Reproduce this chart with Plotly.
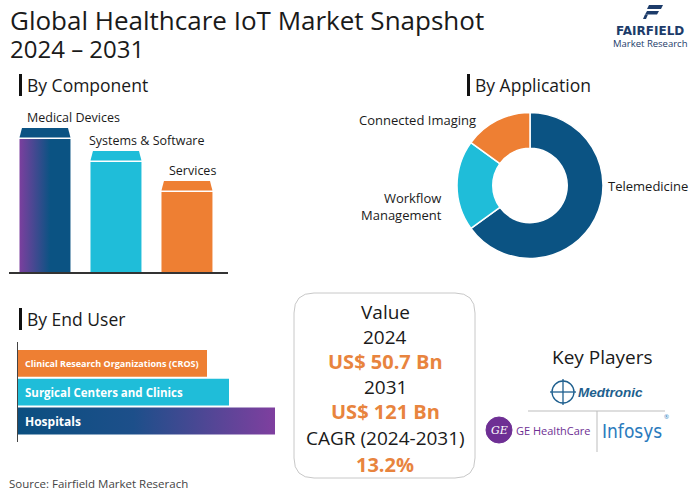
import plotly.graph_objects as go

W, H = 700, 491

# ---------------- data ----------------
title_line1 = "Global Healthcare IoT Market Snapshot"
title_line2 = "2024 – 2031"

component_labels = ["Medical Devices", "Systems & Software", "Services"]
component_values = [144, 121, 91]

application_labels = ["Telemedicine", "Workflow<br>Management", "Connected Imaging"]
application_values = [65, 20, 15]

end_user_labels = ["Hospitals", "Surgical Centers and Clinics", "Clinical Research Organizations (CROS)"]
end_user_values = [257, 211, 189]

value_year_start = "2024"
value_year_end = "2031"
value_start = "US$ 50.7 Bn"
value_end = "US$ 121 Bn"
cagr_label = "CAGR (2024-2031)"
cagr_value = "13.2%"

key_players = ["Medtronic", "GE HealthCare", "Infosys"]
source_text = "Source: Fairfield Market Reserach"

# ---------------- styles ----------------
FONT = "Open Sans, Lato, sans-serif"
DARK_BLUE = "#0b5383"
CYAN = "#1fbdd9"
ORANGE = "#ee7f33"
PURPLE = "#7b3f9e"
TEXT = "#1a1a1a"
VAL_ORANGE = "#e8843e"


def px(x):
    return x / W


def py(y):
    return 1 - y / H


fig = go.Figure()

# ---------------- By Component (vertical bars) ----------------
comp_colors = [None, CYAN, ORANGE]
cap_colors = [DARK_BLUE, CYAN, ORANGE]
half = 0.359
inset = 0.035
cap_h = 9.5
gap = 1.5
label_offsets = [0.08, -0.05, 0.08]
for i, (lab, v) in enumerate(zip(component_labels, component_values)):
    body_top = v - cap_h - gap
    bx = [i - half, i + half, i + half, i - half, i - half]
    by = [0, 0, body_top, body_top, 0]
    if i == 0:
        fig.add_trace(go.Scatter(
            x=bx, y=by, mode="lines", fill="toself", line=dict(width=0),
            fillgradient=dict(type="horizontal",
                              colorscale=[[0, PURPLE], [0.6, DARK_BLUE], [1, DARK_BLUE]]),
            hoverinfo="skip", showlegend=False, xaxis="x", yaxis="y"))
    else:
        fig.add_trace(go.Scatter(
            x=bx, y=by, mode="lines", fill="toself", line=dict(width=0),
            fillcolor=comp_colors[i], hoverinfo="skip", showlegend=False,
            xaxis="x", yaxis="y"))
    cx = [i - half, i + half, i + half - inset, i - half + inset, i - half]
    cy = [v - cap_h, v - cap_h, v, v, v - cap_h]
    fig.add_trace(go.Scatter(
        x=cx, y=cy, mode="lines", fill="toself", line=dict(width=0),
        fillcolor=cap_colors[i], hoverinfo="skip", showlegend=False,
        xaxis="x", yaxis="y"))
    fig.add_annotation(x=i - half + label_offsets[i], y=v + 0.5,
                       xref="x", yref="y", text=lab, showarrow=False,
                       xanchor="left", yanchor="bottom",
                       font=dict(family=FONT, size=12.5, color=TEXT))

# ---------------- By End User (horizontal bars) ----------------
eu_colors = [None, CYAN, ORANGE]
eu_half = 0.465
eu_sizes = [12, 11.5, 9]
for i, (lab, v) in enumerate(zip(end_user_labels, end_user_values)):
    xs = [0, v, v, 0, 0]
    ys = [i - eu_half, i - eu_half, i + eu_half, i + eu_half, i - eu_half]
    if i == 0:
        fig.add_trace(go.Scatter(
            x=xs, y=ys, mode="lines", fill="toself", line=dict(width=0),
            fillgradient=dict(type="horizontal",
                              colorscale=[[0, "#0b4f80"], [0.45, "#1d4f8a"], [1, "#7f3f9f"]]),
            hoverinfo="skip", showlegend=False, xaxis="x2", yaxis="y2"))
    else:
        fig.add_trace(go.Scatter(
            x=xs, y=ys, mode="lines", fill="toself", line=dict(width=0),
            fillcolor=eu_colors[i], hoverinfo="skip", showlegend=False,
            xaxis="x2", yaxis="y2"))
    fig.add_annotation(x=5, y=i, xref="x2", yref="y2",
                       text="<b>%s</b>" % lab, showarrow=False,
                       xanchor="left", yanchor="middle",
                       font=dict(family=FONT, size=eu_sizes[i], color="white"))

# ---------------- By Application (donut) ----------------
pcx, pcy, pr = 530, 185.5, 73
fig.add_trace(go.Pie(
    labels=application_labels, values=application_values, hole=0.51,
    sort=False, direction="clockwise", rotation=0,
    marker=dict(colors=[DARK_BLUE, CYAN, ORANGE], line=dict(color="white", width=1.5)),
    textinfo="none", hoverinfo="label+percent", showlegend=False,
    domain=dict(x=[px(pcx - pr), px(pcx + pr)], y=[py(pcy + pr), py(pcy - pr)])))

pie_label_pos = [(606, 186, "left"), (444, 207, "right"), (478, 120, "right")]
for lab, (lx, ly, anc) in zip(application_labels, pie_label_pos):
    fig.add_annotation(x=px(lx), y=py(ly), xref="paper", yref="paper", text=lab,
                       showarrow=False, xanchor=anc, yanchor="middle",
                       align=anc, font=dict(family=FONT, size=13, color=TEXT))

# ---------------- axes ----------------
fig.update_layout(
    xaxis=dict(domain=[px(9), px(228)], range=[-0.507, 2.578], showgrid=False,
               zeroline=False, showticklabels=False, ticks="", showline=True,
               linecolor="#333", linewidth=1.5, fixedrange=True),
    yaxis=dict(domain=[py(272), py(100)], range=[0, 172], showgrid=False,
               zeroline=False, showticklabels=False, ticks="", showline=False,
               fixedrange=True),
    xaxis2=dict(domain=[px(18), px(300)], range=[0, 282], showgrid=False,
                zeroline=False, showticklabels=False, ticks="", showline=False,
                anchor="y2", fixedrange=True),
    yaxis2=dict(domain=[py(442), py(342)], range=[-0.728, 2.738], showgrid=False,
                zeroline=False, showticklabels=False, ticks="", showline=True,
                linecolor="#444", linewidth=1, anchor="x2", fixedrange=True),
)

# ---------------- titles & headings ----------------
fig.add_annotation(x=px(8), y=py(20), xref="paper", yref="paper", text=title_line1,
                   showarrow=False, xanchor="left", yanchor="middle",
                   font=dict(family=FONT, size=26, color=TEXT))
fig.add_annotation(x=px(8), y=py(48), xref="paper", yref="paper", text=title_line2,
                   showarrow=False, xanchor="left", yanchor="middle",
                   font=dict(family=FONT, size=24, color=TEXT))

headings = [("By Component", 19, 85), ("By Application", 467, 85), ("By End User", 19, 319)]
for txt, hx, hy in headings:
    fig.add_shape(type="rect", xref="paper", yref="paper",
                  x0=px(hx), x1=px(hx + 3), y0=py(hy + 11), y1=py(hy - 11),
                  fillcolor="#111", line=dict(width=0))
    fig.add_annotation(x=px(hx + 6), y=py(hy), xref="paper", yref="paper", text=txt,
                       showarrow=False, xanchor="left", yanchor="middle",
                       font=dict(family=FONT, size=17.5, color=TEXT))

# ---------------- value box ----------------
bx0, bx1, by0, by1, r = 294, 475, 293, 478, 20
rx, ry = r / W, r / H
X0, X1, Y0, Y1 = px(bx0), px(bx1), py(by1), py(by0)
path = (f"M {X0+rx},{Y1} L {X1-rx},{Y1} Q {X1},{Y1} {X1},{Y1-ry} "
        f"L {X1},{Y0+ry} Q {X1},{Y0} {X1-rx},{Y0} L {X0+rx},{Y0} "
        f"Q {X0},{Y0} {X0},{Y0+ry} L {X0},{Y1-ry} Q {X0},{Y1} {X0+rx},{Y1} Z")
fig.add_shape(type="path", path=path, xref="paper", yref="paper",
              line=dict(color="#c8c8c8", width=1), fillcolor="white", layer="below")

box_lines = [("Value", 311.5, False), (value_year_start, 336.5, False),
             (value_start, 361, True), (value_year_end, 386.5, False),
             (value_end, 411.5, True), (cagr_label, 438, False), (cagr_value, 464.5, True)]
for txt, ly, bold in box_lines:
    fig.add_annotation(x=px(385), y=py(ly), xref="paper", yref="paper",
                       text=("<b>%s</b>" % txt) if bold else txt, showarrow=False,
                       xanchor="center", yanchor="middle",
                       font=dict(family=FONT, size=20 if bold else 19,
                                 color=VAL_ORANGE if bold else TEXT))

# ---------------- key players ----------------
fig.add_annotation(x=px(602), y=py(356.5), xref="paper", yref="paper", text="Key Players",
                   showarrow=False, xanchor="center", yanchor="middle",
                   font=dict(family=FONT, size=19, color=TEXT))
fig.add_shape(type="line", xref="paper", yref="paper", x0=px(528), x1=px(665),
              y0=py(411), y1=py(411), line=dict(color="#bdbdbd", width=1))
fig.add_shape(type="line", xref="paper", yref="paper", x0=px(597), x1=px(597),
              y0=py(411), y1=py(452), line=dict(color="#bdbdbd", width=1))

# Medtronic
MED = "#1e5f8e"
fig.add_shape(type="circle", xref="paper", yref="paper", x0=px(552), x1=px(574),
              y0=py(403), y1=py(381), line=dict(color=MED, width=1.3))
fig.add_shape(type="line", xref="paper", yref="paper", x0=px(563), x1=px(563),
              y0=py(379), y1=py(405), line=dict(color=MED, width=1.3))
fig.add_shape(type="line", xref="paper", yref="paper", x0=px(550), x1=px(576),
              y0=py(392), y1=py(392), line=dict(color=MED, width=1.3))
fig.add_annotation(x=px(576), y=py(392.5), xref="paper", yref="paper",
                   text="<b><i>%s</i></b>" % key_players[0], showarrow=False,
                   xanchor="left", yanchor="middle",
                   font=dict(family="Liberation Sans, Arial, sans-serif", size=13.5, color=MED))

# GE HealthCare
GE = "#6e2f94"
fig.add_shape(type="circle", xref="paper", yref="paper", x0=px(486), x1=px(512),
              y0=py(443), y1=py(417), fillcolor=GE, line=dict(color=GE, width=1))
fig.add_annotation(x=px(499), y=py(430), xref="paper", yref="paper",
                   text="<i>GE</i>", showarrow=False, xanchor="center", yanchor="middle",
                   font=dict(family="DejaVu Serif, serif", size=11, color="white"))
fig.add_annotation(x=px(514), y=py(430.5), xref="paper", yref="paper",
                   text=key_players[1], showarrow=False, xanchor="left", yanchor="middle",
                   font=dict(family=FONT, size=11, color=GE))

# Infosys
INF = "#2b7bbd"
fig.add_annotation(x=px(600), y=py(431), xref="paper", yref="paper",
                   text=key_players[2], showarrow=False, xanchor="left", yanchor="middle",
                   font=dict(family="Liberation Sans Narrow, DejaVu Sans Condensed, sans-serif",
                             size=19, color=INF))
fig.add_annotation(x=px(666), y=py(417), xref="paper", yref="paper",
                   text="®", showarrow=False, xanchor="center", yanchor="middle",
                   font=dict(family=FONT, size=6, color=INF))

# ---------------- Fairfield logo ----------------
NAVY = "#1d3c6a"


def ppath(points):
    return "M " + " L ".join(f"{px(a)},{py(b)}" for a, b in points) + " Z"


fig.add_shape(type="path", xref="paper", yref="paper",
              path=ppath([(649, 5), (663, 5), (661, 9), (647, 9)]),
              fillcolor=NAVY, line=dict(width=0))
fig.add_shape(type="path", xref="paper", yref="paper",
              path=ppath([(647, 11), (659, 11), (657, 14.5), (645, 14.5)]),
              fillcolor=NAVY, line=dict(width=0))
fig.add_shape(type="path", xref="paper", yref="paper",
              path=ppath([(645, 14.5), (648, 14.5), (646, 19), (643, 19)]),
              fillcolor=NAVY, line=dict(width=0))
fig.add_annotation(x=px(650), y=py(31), xref="paper", yref="paper",
                   text="<b>FAIRFIELD</b>", showarrow=False, xanchor="center", yanchor="middle",
                   font=dict(family="DejaVu Sans, sans-serif", size=12, color=NAVY))
fig.add_annotation(x=px(650), y=py(44), xref="paper", yref="paper",
                   text="Market Research", showarrow=False, xanchor="center", yanchor="middle",
                   font=dict(family=FONT, size=9.5, color=NAVY))

# ---------------- source ----------------
fig.add_annotation(x=px(7), y=py(483), xref="paper", yref="paper", text=source_text,
                   showarrow=False, xanchor="left", yanchor="middle",
                   font=dict(family=FONT, size=11.5, color="#444"))

fig.update_layout(width=W, height=H, margin=dict(l=0, r=0, t=0, b=0),
                  paper_bgcolor="white", plot_bgcolor="rgba(0,0,0,0)",
                  showlegend=False)

fig.write_html("out.html", config=dict(displayModeBar=False),
               post_script="document.body.style.margin='0';document.body.style.overflow='hidden';")
